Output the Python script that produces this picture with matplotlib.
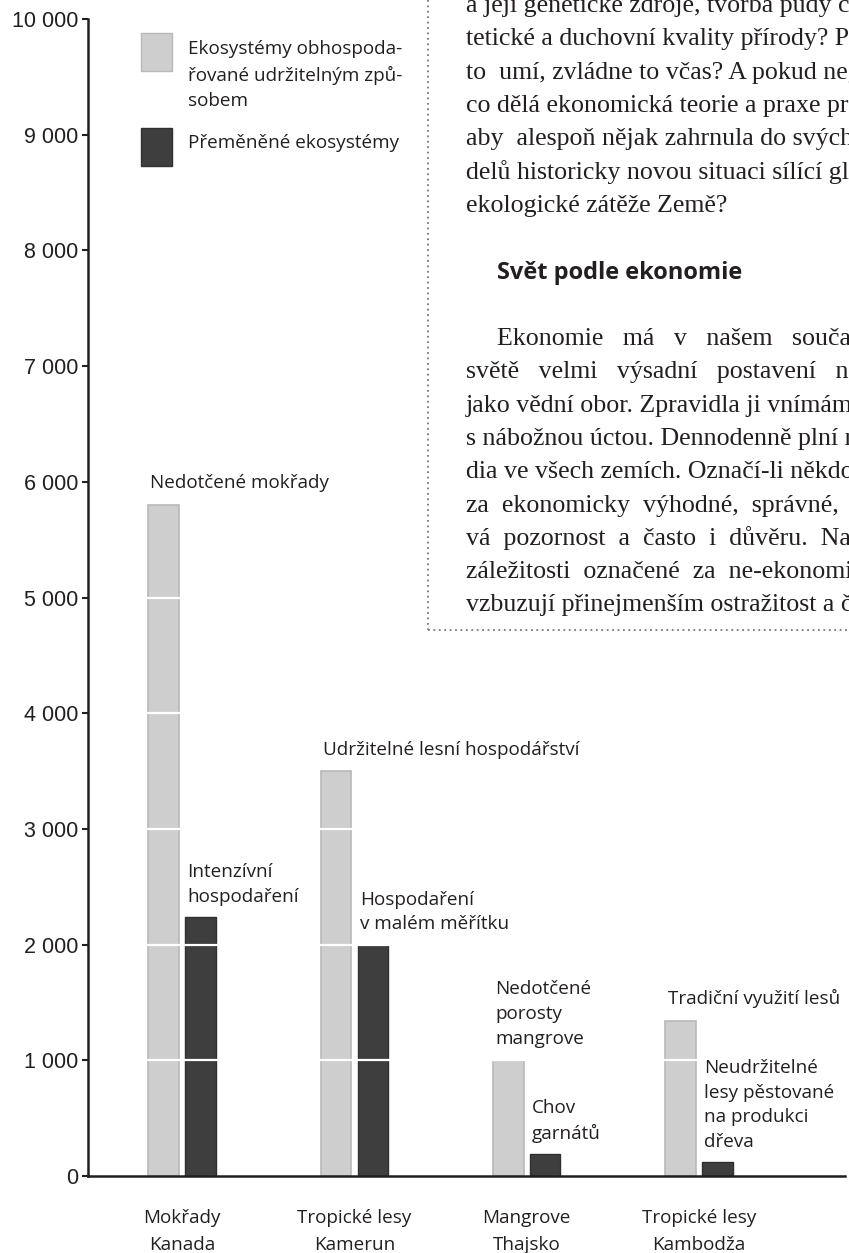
import matplotlib
matplotlib.use("Agg")
import matplotlib.pyplot as plt
from matplotlib.patches import Rectangle
from matplotlib.lines import Line2D

# data
categories = ["Mokřady\nKanada", "Tropické lesy\nKamerun", "Mangrove\nThajsko", "Tropické lesy\nKambodža"]
sustainable = [5800, 3500, 1000, 1340]
converted = [2240, 2000, 190, 120]
sustainable_notes = ["Nedotčené mokřady", "Udržitelné lesní hospodářství",
                     "Nedotčené\nporosty\nmangrove", "Tradiční využití lesů"]
converted_notes = ["Intenzívní\nhospodaření", "Hospodaření\nv malém měřítku",
                   "Chov\ngarnátů", "Neudržitelné\nlesy pěstované\nna produkci\ndřeva"]
legend_labels = ["Ekosystémy obhospoda-\nřované udržitelným způ-\nsobem", "Přeměněné ekosystémy"]
yticks = [0, 1000, 2000, 3000, 4000, 5000, 6000, 7000, 8000, 9000, 10000]
ytick_labels = ["0", "1 000", "2 000", "3 000", "4 000", "5 000",
                "6 000", "7 000", "8 000", "9 000", "10 000"]

body_top = ["a její genetické zdroje, tvorba půdy či es-",
            "tetické a duchovní kvality přírody? Pokud",
            "to  umí, zvládne to včas? A pokud ne, co",
            "co dělá ekonomická teorie a praxe pro to,",
            "aby  alespoň nějak zahrnula do svých mo-",
            "delů historicky novou situaci sílící glob",
            "ekologické zátěže Země?"]
heading = "Svět podle ekonomie"
body_par = ["Ekonomie   má   v   našem   současném",
            "světě   velmi   výsadní   postavení   nejen",
            "jako vědní obor. Zpravidla ji vnímáme",
            "s nábožnou úctou. Dennodenně plní mé-",
            "dia ve všech zemích. Označí-li někdo ně",
            "za  ekonomicky  výhodné,  správné,  získá",
            "vá  pozornost  a  často  i  důvěru.  Naopak",
            "záležitosti  označené  za  ne-ekonomické",
            "vzbuzují přinejmenším ostražitost a často"]

W, H = 849, 1253
LIGHT = "#cecece"
LIGHT_EDGE = "#b9b9b9"
DARK = "#3e3e3e"
DARK_EDGE = "#303030"
INK = "#231f20"
SANS = ["Open Sans", "DejaVu Sans"]
FS = 13.6


def fx(x):
    return x / W


def fy(y):
    return 1 - y / H


fig = plt.figure(figsize=(W / 100, H / 100), dpi=100)
ax = fig.add_axes([fx(88), fy(1176), fx(845) - fx(88), fy(19) - fy(1176)])

n = len(categories)
pos = list(range(n))
bw = 0.177
off = 0.107
lx = [p - off for p in pos]
dx = [p + off for p in pos]
ax.bar(lx, sustainable, width=bw, color=LIGHT, edgecolor=LIGHT_EDGE, linewidth=1.2, zorder=2)
ax.bar(dx, converted, width=bw, color=DARK, edgecolor=DARK_EDGE, linewidth=1.0, zorder=2)

# white breaks across the bars at each 1000
for y in yticks[1:]:
    if y < max(sustainable):
        ax.axhline(y, color="white", lw=1.6, zorder=2.6)

ax.set_xlim(-0.545, 3.846)
ax.set_ylim(0, 10000)
ax.set_yticks(yticks)
ax.set_yticklabels(ytick_labels, family="Liberation Sans", fontsize=15.5, color=INK)
ax.set_xticks(pos)
ax.set_xticklabels(categories, family=SANS, fontsize=FS, color=INK, linespacing=1.62)
ax.tick_params(axis="x", length=0, pad=24)
ax.tick_params(axis="y", length=4.5, width=1.5, color=INK, pad=2.5)
for s in ["top", "right"]:
    ax.spines[s].set_visible(False)
for s in ["left", "bottom"]:
    ax.spines[s].set_linewidth(1.8)
    ax.spines[s].set_color(INK)
ax.spines["left"].set_zorder(3)

for i in range(n):
    ax.annotate(sustainable_notes[i], xy=(lx[i] - bw / 2, sustainable[i]),
                xytext=(1.5, 9), textcoords="offset points", ha="left", va="bottom",
                family=SANS, fontsize=FS, color=INK, linespacing=1.48, zorder=4)
    ax.annotate(converted_notes[i], xy=(dx[i] - bw / 2, converted[i]),
                xytext=(1.5, 8), textcoords="offset points", ha="left", va="bottom",
                family=SANS, fontsize=FS, color=INK, linespacing=1.48, zorder=4)

# legend
fig.add_artist(Rectangle((fx(141), fy(71)), fx(172) - fx(141), fy(33) - fy(71),
                         transform=fig.transFigure, facecolor=LIGHT, edgecolor=LIGHT_EDGE, lw=1))
fig.add_artist(Rectangle((fx(141), fy(166)), fx(172) - fx(141), fy(128) - fy(166),
                         transform=fig.transFigure, facecolor=DARK, edgecolor=DARK_EDGE, lw=1))
fig.text(fx(188), fy(40), legend_labels[0], family=SANS, fontsize=FS, color=INK,
         va="top", linespacing=1.5)
fig.text(fx(188), fy(148), legend_labels[1], family=SANS, fontsize=FS, color=INK,
         va="baseline")

# page text box next to the chart
box_x, box_y = 428, 630
fig.add_artist(Line2D([fx(box_x), fx(box_x)], [fy(0), fy(box_y)], transform=fig.transFigure,
                      color="#777777", lw=1.3, ls=(0, (1, 2))))
fig.add_artist(Line2D([fx(box_x), fx(W)], [fy(box_y), fy(box_y)], transform=fig.transFigure,
                      color="#777777", lw=1.3, ls=(0, (1, 2))))

for k, line in enumerate(body_top):
    fig.text(fx(466), fy(12 + 33.3 * k), line, family="Liberation Serif", fontsize=18.6,
             color=INK, va="baseline")
fig.text(fx(497), fy(279), heading, family=SANS, fontweight="bold", fontsize=17,
         color=INK, va="baseline")
for k, line in enumerate(body_par):
    x0 = 497 if k == 0 else 466
    fig.text(fx(x0), fy(345 + 33.3 * k), line, family="Liberation Serif", fontsize=18.6,
             color=INK, va="baseline")

fig.savefig("out.png", dpi=100)
